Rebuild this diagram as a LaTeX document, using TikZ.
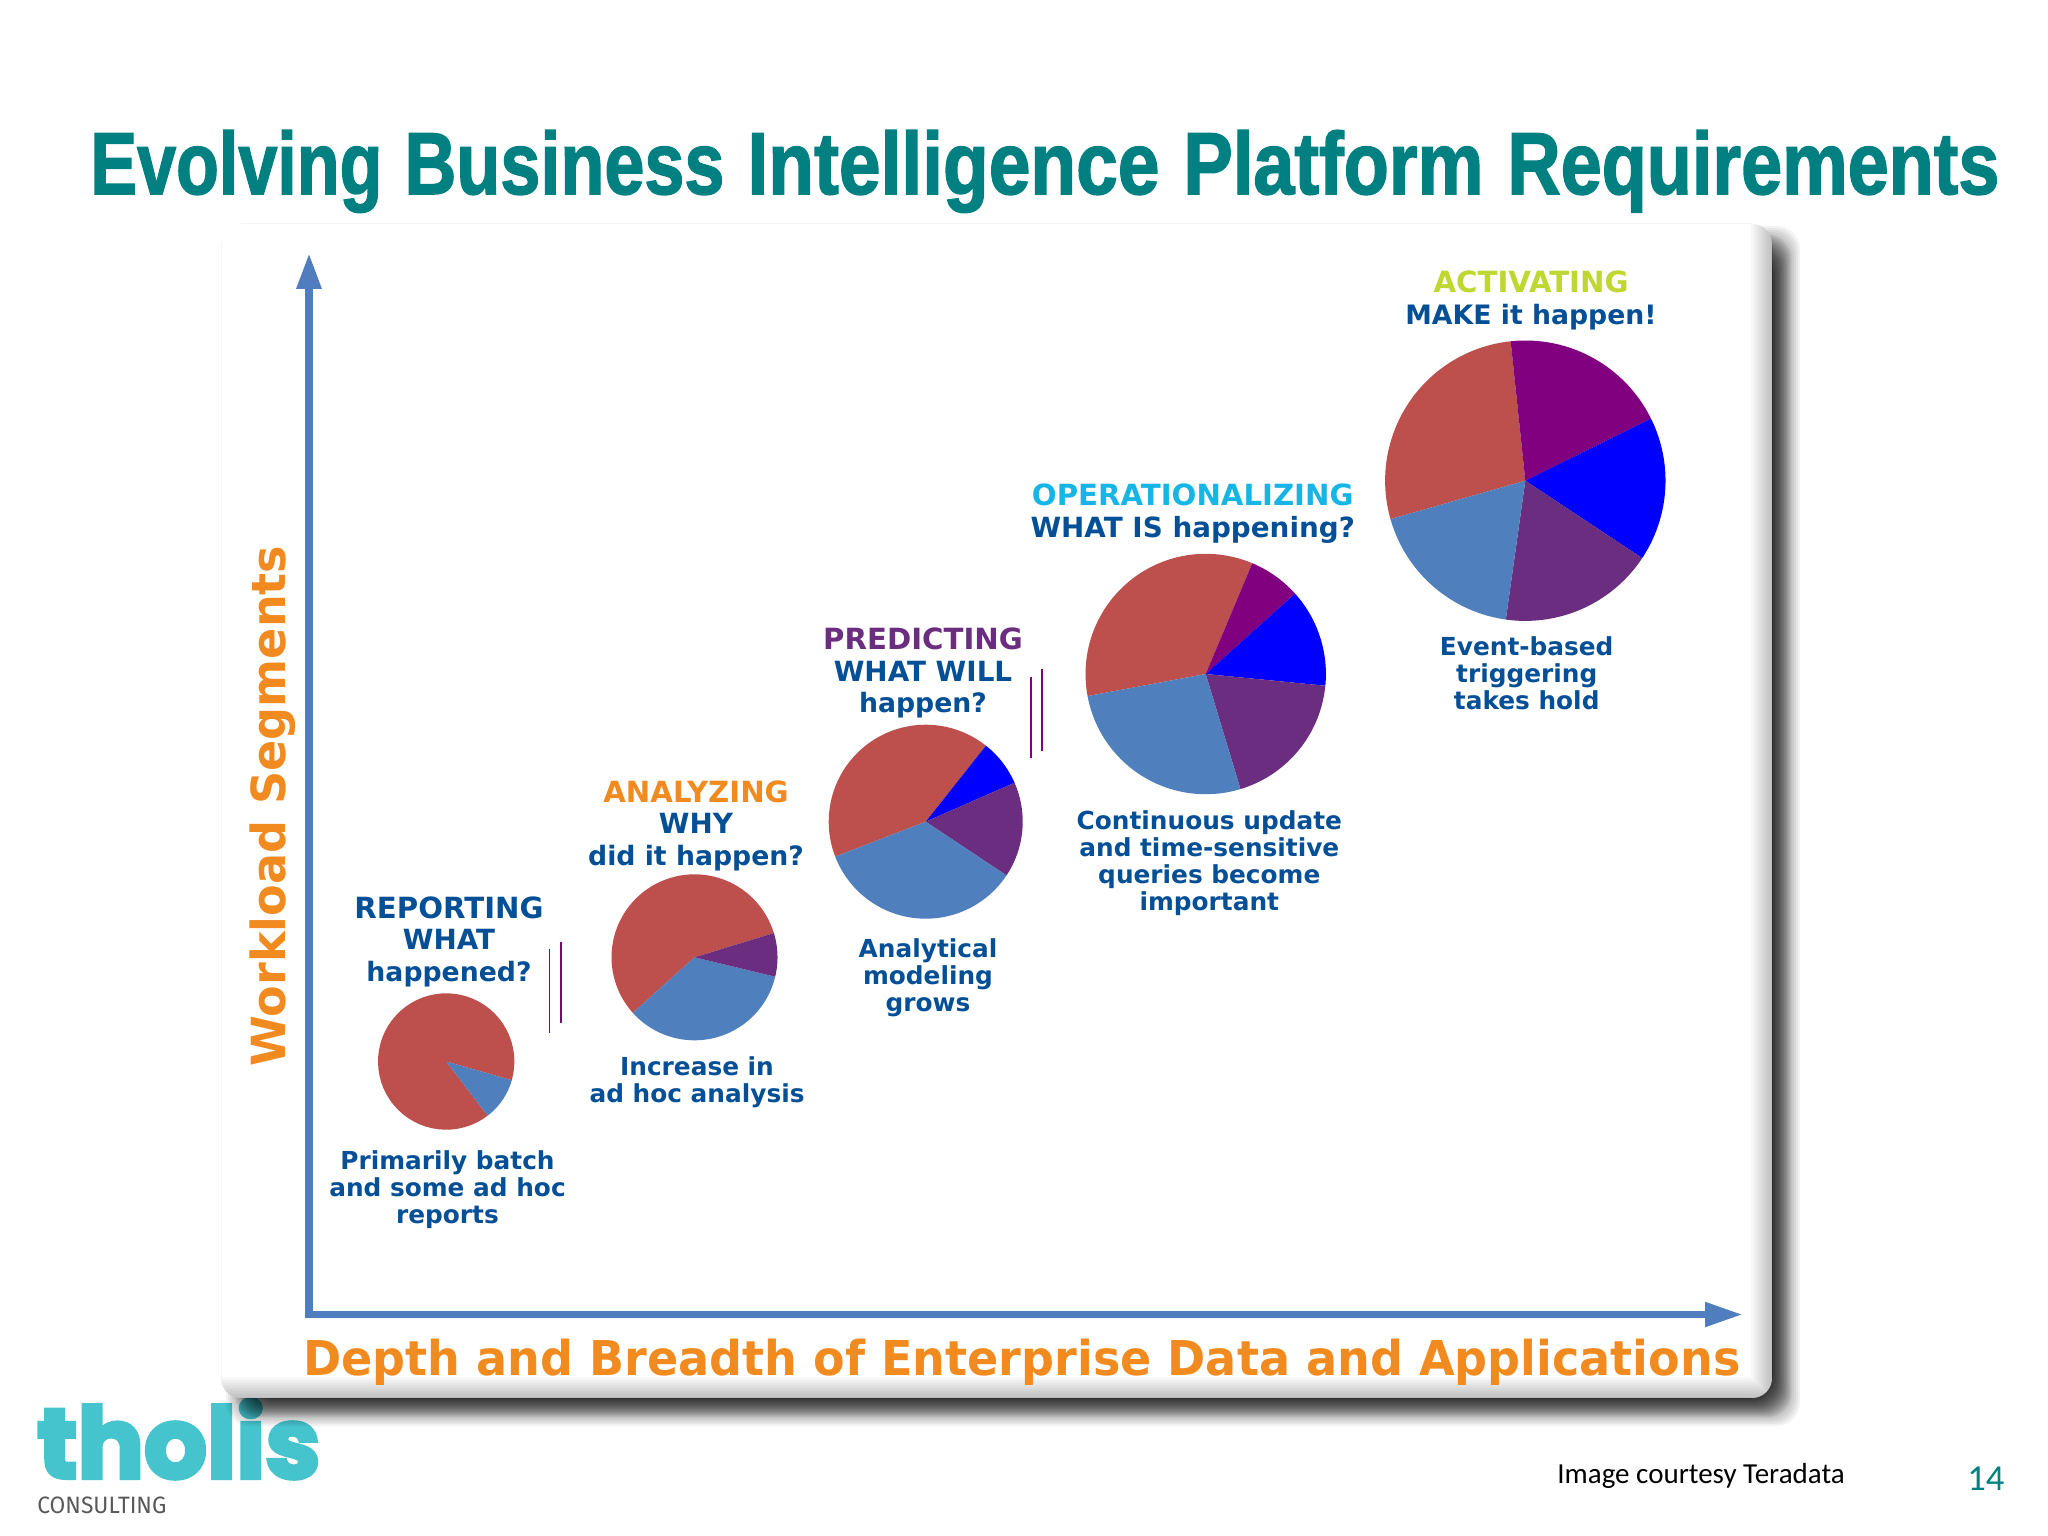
\documentclass[tikz,border=0pt]{standalone}
\usepackage{fontspec}
\usepackage{graphicx}
\usetikzlibrary{arrows.meta}
\setmainfont{DejaVu Sans}
\newfontfamily\titlefont[BoldFeatures={FakeBold=1.8}]{Liberation Sans}
\newfontfamily\notefont{Carlito}
\newfontfamily\logofont[BoldFeatures={FakeBold=4}]{Poppins}
\newfontfamily\subfont{Fira Sans}
\definecolor{teal0}{RGB}{0,128,128}
\definecolor{txtblue}{RGB}{5,79,150}
\definecolor{axisblue}{RGB}{79,125,189}
\definecolor{pred}{RGB}{189,80,77}
\definecolor{pblue}{RGB}{79,127,189}
\definecolor{ppurple}{RGB}{107,45,127}
\definecolor{pmag}{RGB}{128,0,128}
\definecolor{pbright}{RGB}{0,0,255}
\definecolor{orange0}{RGB}{241,138,31}
\definecolor{lime0}{RGB}{191,215,48}
\definecolor{cyan0}{RGB}{23,181,229}
\definecolor{logocyan}{RGB}{69,196,206}
\newcommand{\pieslice}[6]{\fill[#6] (#1,#2) -- plot[domain=#4:#5,samples=60] ({#1+#3*cos(\x)},{#2+#3*sin(\x)}) -- cycle;}
\newcommand{\capsline}[2]{{\fontsize{14.6}{15.75}\selectfont\textcolor{#1}{#2}}}
\newcommand{\lowline}[1]{{\fontsize{13.35}{15.75}\selectfont #1}}
\newcommand{\tw}[2]{\resizebox{#1pt}{\height}{#2}}
\tikzset{
  head/.style={inner sep=0pt,anchor=base,align=center,text=txtblue,font={\bfseries\fontsize{13.9}{15.75}\selectfont}},
  desc/.style={inner sep=0pt,anchor=base,align=center,text=txtblue,font={\bfseries\fontsize{12.4}{13.4}\selectfont}},
  plain/.style={inner sep=0pt,anchor=base west},
  tick/.style={draw=pmag,line width=0.8pt},
  axis/.style={draw=axisblue,line width=3.9pt,{Triangle[length=18pt,width=11.7pt]}-{Triangle[length=19pt,width=11.5pt]}}
}
\begin{document}
\begin{tikzpicture}[x=0.5pt,y=-0.5pt]
\useasboundingbox (0,0) rectangle (2048,1535);
\fill[white] (0,0) rectangle (2048,1535);
% logo (under the shadow)
\node[plain,text=logocyan] (logo) at (37,1478) {\resizebox{141.5pt}{39.5pt}{\logofont\bfseries tholis}};
\node[plain,text=black!65] (logosub) at (37,1513) {\resizebox{64.5pt}{8.3pt}{\subfont CONSULTING}};
% shadow
\foreach \i in {0,...,27}{
  \pgfmathsetmacro{\off}{\i<4 ? 2*\i : 8+(\i-4)*0.87}
  \fill[black,opacity=0.05,rounded corners=12pt] ({226+\off},{226+\off}) rectangle ({1800-\off},{1426-\off});
}
% panel
\begin{scope}
\clip[rounded corners=10pt] (221,224) rectangle (1772,1398);
\fill[white] (221,224) rectangle (1772,1398);
\foreach \i in {1,...,11}{
  \fill[black,opacity=0.025,even odd rule] (221,224) rectangle (1773,1399) (221,224) rectangle ({1773-\i*2},{1399-\i*2});
}
\end{scope}
% axes
\coordinate (ytip) at (309,253);
\coordinate (origin) at (309,1314.5);
\coordinate (xtip) at (1743,1314.5);
\draw[axis] (ytip) -- (origin) -- (xtip);
% axis labels
\node[plain,text=orange0,rotate=90] (ylab) at (285,1067) {\resizebox{260.5pt}{\height}{\bfseries\fontsize{23.5}{27}\selectfont Workload Segments}};
\node[plain,text=orange0] (xlab) at (303,1375) {\resizebox{718.5pt}{\height}{\bfseries\fontsize{24}{28}\selectfont Depth and Breadth of Enterprise Data and Applications}};
% title
\node[plain,text=teal0] (title) at (90,194) {\titlefont\bfseries\fontsize{44}{50}\selectfont\tw{146}{Evolving}\hspace{11pt}\tw{160}{Business}\hspace{11.5pt}\tw{206}{Intelligence}\hspace{12pt}\tw{150}{Platform}\hspace{12pt}\tw{246}{Requirements}};
% pies
\pieslice{446.2}{1061.5}{68.2}{52.6}{375.9}{pred}
\pieslice{446.2}{1061.5}{68.2}{15.9}{52.6}{pblue}

\pieslice{694.5}{957.3}{83}{138}{343}{pred}
\pieslice{694.5}{957.3}{83}{13.5}{138}{pblue}
\pieslice{694.5}{957.3}{83}{-17}{13.5}{ppurple}

\pieslice{925.7}{821.7}{97}{158.9}{308.4}{pred}
\pieslice{925.7}{821.7}{97}{-51.6}{-23.7}{pbright}
\pieslice{925.7}{821.7}{97}{-23.7}{33.6}{ppurple}
\pieslice{925.7}{821.7}{97}{33.6}{158.9}{pblue}

\pieslice{1205.7}{674}{120.2}{169.4}{292.8}{pred}
\pieslice{1205.7}{674}{120.2}{-67.2}{-42}{pmag}
\pieslice{1205.7}{674}{120.2}{-42}{5.6}{pbright}
\pieslice{1205.7}{674}{120.2}{5.6}{73.2}{ppurple}
\pieslice{1205.7}{674}{120.2}{73.2}{169.4}{pblue}

\pieslice{1525.3}{480.7}{140.2}{164.1}{264}{pred}
\pieslice{1525.3}{480.7}{140.2}{-96}{-26.3}{pmag}
\pieslice{1525.3}{480.7}{140.2}{-26.3}{33.5}{pbright}
\pieslice{1525.3}{480.7}{140.2}{33.5}{98}{ppurple}
\pieslice{1525.3}{480.7}{140.2}{98}{164.1}{pblue}
% double rules
\coordinate (a1) at (549.4,949.3); \coordinate (a2) at (549.4,1032.7);
\coordinate (b1) at (560.8,941.7); \coordinate (b2) at (560.8,1022.7);
\coordinate (c1) at (1030.7,676.7); \coordinate (c2) at (1030.7,758.3);
\coordinate (d1) at (1042,669.3); \coordinate (d2) at (1042,750.7);
\draw[tick] (a1) -- (a2);
\draw[tick] (b1) -- (b2);
\draw[tick] (c1) -- (c2);
\draw[tick] (d1) -- (d2);
% labels
\node[head] (h1) at (449,981) {\capsline{txtblue}{REPORTING}\\WHAT\\\lowline{happened?}};
\node[desc] (d1t) at (447.5,1223) {Primarily batch\\and some ad hoc\\reports};
\node[head] (h2) at (696,865) {\capsline{orange0}{ANALYZING}\\WHY\\\lowline{did it happen?}};
\node[desc] (d2t) at (697,1102) {Increase in\\ad hoc analysis};
\node[head] (h3) at (923,712.5) {\capsline{ppurple}{PREDICTING}\\WHAT WILL\\\lowline{happen?}};
\node[desc] (d3t) at (928,1011) {Analytical\\modeling\\grows};
\node[head] (h4) at (1192.7,537) {\capsline{cyan0}{OPERATIONALIZING}\\WHAT IS happening?};
\node[desc] (d4t) at (1209.3,910) {Continuous update\\and time-sensitive\\queries become\\important};
\node[head] (h5) at (1531,324.5) {\capsline{lime0}{ACTIVATING}\\\lowline{MAKE it happen!}};
\node[desc] (d5t) at (1526.7,709) {Event-based\\triggering\\takes hold};
% footer
\node[plain,text=black] (note) at (1557,1483) {\notefont\fontsize{14.5}{17}\selectfont Image courtesy Teradata};
\node[plain,text=teal0] (page) at (1967,1490) {\notefont\fontsize{18.3}{22}\selectfont 14};
\end{tikzpicture}
\end{document}
